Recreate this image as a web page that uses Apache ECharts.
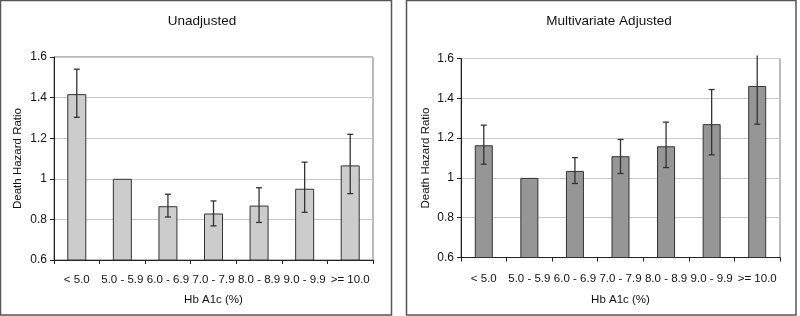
<!DOCTYPE html>
<html>
<head>
<meta charset="utf-8">
<script src="https://cdn.jsdelivr.net/npm/echarts@6/dist/echarts.min.js"></script>
<style>
  html, body { margin: 0; padding: 0; background: #fff; }
  #chart { width: 800px; height: 316px; }
</style>
</head>
<body>
<div id="chart"></div>
<script>
// categories of Hb A1c
var categories = ['< 5.0', '5.0 - 5.9', '6.0 - 6.9', '7.0 - 7.9', '8.0 - 8.9', '9.0 - 9.9', '>= 10.0']

// unadjusted hazard ratios and CI
var unadjHR = [1.417, 1.0, 0.865, 0.829, 0.868, 0.951, 1.066]
var unadjLow = [1.303, null, 0.812, 0.768, 0.785, 0.835, 0.927]
var unadjHigh = [1.54, null, 0.924, 0.891, 0.956, 1.082, 1.219]

// multivariate adjusted hazard ratios and CI
var adjHR = [1.164, 1.0, 1.035, 1.109, 1.159, 1.27, 1.462]
var adjLow = [1.069, null, 0.972, 1.022, 1.052, 1.116, 1.27]
var adjHigh = [1.265, null, 1.102, 1.193, 1.28, 1.444, 1.615]

var yTicks = [0.6, 0.8, 1, 1.2, 1.4, 1.6]

var font = 'Liberation Sans, Arial, sans-serif'

function errData (low, high) {
  var out = []
  low.forEach(function (l, i) {
    if (l !== null) out.push([i, l, high[i]])
  })
  return out
}

function renderErr (params, api) {
  var x = api.value(0)
  var lo = api.coord([x, api.value(1)])
  var hi = api.coord([x, api.value(2)])
  var yMax = yTicks[yTicks.length - 1]
  var style = { stroke: '#333', lineWidth: 1.3 }
  var children = [
    { type: 'line', shape: { x1: lo[0], y1: lo[1], x2: hi[0], y2: hi[1] }, style: style },
    { type: 'line', shape: { x1: lo[0] - 3, y1: lo[1], x2: lo[0] + 3, y2: lo[1] }, style: style }
  ]
  if (api.value(2) <= yMax) {
    children.push({ type: 'line', shape: { x1: hi[0] - 3, y1: hi[1], x2: hi[0] + 3, y2: hi[1] }, style: style })
  }
  return { type: 'group', children: children }
}

function xAxisFor (gridIndex, margin, gap) {
  return {
    type: 'category',
    gridIndex: gridIndex,
    data: categories,
    name: 'Hb A1c (%)',
    nameLocation: 'middle',
    nameGap: gap,
    nameTextStyle: { color: '#111', fontSize: 11.5, fontFamily: font },
    axisLine: { lineStyle: { color: '#222', width: 1 } },
    axisTick: { show: true, length: 4, lineStyle: { color: '#222' } },
    axisLabel: { interval: 0, margin: margin, color: '#111', fontSize: 11.5, fontFamily: font },
    splitLine: { show: false }
  }
}

function yAxisFor (gridIndex, gap) {
  return {
    type: 'value',
    gridIndex: gridIndex,
    min: 0.6,
    max: 1.6,
    interval: 0.2,
    name: 'Death Hazard Ratio',
    nameLocation: 'middle',
    nameGap: gap,
    nameRotate: 90,
    nameTextStyle: { color: '#111', fontSize: 11.5, fontFamily: font },
    axisLine: { show: true, lineStyle: { color: '#222', width: 1 } },
    axisTick: { show: true, length: 4, lineStyle: { color: '#222' } },
    axisLabel: { margin: 7, color: '#111', fontSize: 12, fontFamily: font,
      formatter: function (v) { return String(Math.round(v * 10) / 10) } },
    splitLine: { show: true, lineStyle: { color: '#c8c8c8', width: 1 } }
  }
}

var myChart = echarts.init(document.getElementById('chart'), null, { renderer: 'canvas' })

var option = {
  backgroundColor: '#fff',
  animation: false,
  title: [
    { text: 'Unadjusted', left: 197, top: 9, textAlign: 'center',
      textStyle: { fontSize: 13.5, fontWeight: 'normal', color: '#111', fontFamily: font } },
    { text: 'Multivariate Adjusted', left: 604, top: 9, textAlign: 'center',
      textStyle: { fontSize: 13.5, fontWeight: 'normal', color: '#111', fontFamily: font } }
  ],
  graphic: [
    { type: 'rect', shape: { x: 0.5, y: 0.5, width: 391, height: 314.5 },
      style: { fill: 'none', stroke: '#555', lineWidth: 1.5 }, z: -1 },
    { type: 'rect', shape: { x: 406.5, y: 0.5, width: 389.5, height: 314.5 },
      style: { fill: 'none', stroke: '#555', lineWidth: 1.5 }, z: -1 }
  ],
  grid: [
    { left: 54, top: 57, width: 319, height: 203, show: true, borderColor: '#777', borderWidth: 1, backgroundColor: '#fff' },
    { left: 461, top: 58.5, width: 319, height: 199, show: true, borderColor: '#777', borderWidth: 1, backgroundColor: '#fff' }
  ],
  xAxis: [xAxisFor(0, 14, 34), xAxisFor(1, 15, 36)],
  yAxis: [yAxisFor(0, 30), yAxisFor(1, 29)],
  series: [
    {
      type: 'bar', xAxisIndex: 0, yAxisIndex: 0, data: unadjHR, barWidth: 19,
      itemStyle: { color: '#cccccc', borderColor: '#333', borderWidth: 1 }
    },
    {
      type: 'custom', xAxisIndex: 0, yAxisIndex: 0, data: errData(unadjLow, unadjHigh),
      renderItem: renderErr, z: 5
    },
    {
      type: 'bar', xAxisIndex: 1, yAxisIndex: 1, data: adjHR, barWidth: 18,
      itemStyle: { color: '#969696', borderColor: '#333', borderWidth: 1 }
    },
    {
      type: 'custom', xAxisIndex: 1, yAxisIndex: 1, data: errData(adjLow, adjHigh),
      renderItem: renderErr, clip: false, z: 5
    }
  ]
}

myChart.setOption(option, true)
</script>
</body>
</html>
